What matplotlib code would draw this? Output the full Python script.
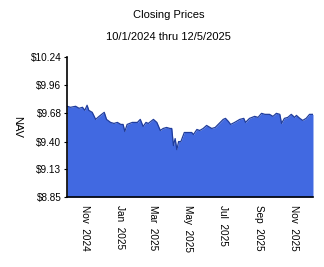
import matplotlib
matplotlib.use("Agg")

import matplotlib.pyplot as plt
import pandas as pd

# closing NAV
dates = [
    "2024-10-01", "2024-10-07", "2024-10-16", "2024-10-22", "2024-10-28",
    "2024-11-01", "2024-11-05", "2024-11-08", "2024-11-14", "2024-11-20",
    "2024-11-26", "2024-12-05", "2024-12-09", "2024-12-16", "2024-12-22",
    "2024-12-28", "2025-01-03", "2025-01-07", "2025-01-10", "2025-01-14",
    "2025-01-23", "2025-02-01", "2025-02-06", "2025-02-11", "2025-02-16",
    "2025-02-20", "2025-03-01", "2025-03-07", "2025-03-13", "2025-03-18",
    "2025-03-24", "2025-03-30", "2025-04-02", "2025-04-05", "2025-04-08",
    "2025-04-11", "2025-04-14", "2025-04-18", "2025-04-24", "2025-05-01",
    "2025-05-07", "2025-05-10", "2025-05-16", "2025-05-21", "2025-05-27",
    "2025-06-02", "2025-06-08", "2025-06-11", "2025-06-17", "2025-06-24",
    "2025-07-01", "2025-07-05", "2025-07-10", "2025-07-14", "2025-07-21",
    "2025-07-30", "2025-08-06", "2025-08-09", "2025-08-16", "2025-08-25",
    "2025-08-31", "2025-09-06", "2025-09-12", "2025-09-20", "2025-09-26",
    "2025-10-02", "2025-10-08", "2025-10-11", "2025-10-16", "2025-10-22",
    "2025-10-28", "2025-11-03", "2025-11-06", "2025-11-12", "2025-11-17",
    "2025-11-23", "2025-11-29", "2025-12-05",
]
nav = [
    9.75, 9.74, 9.75, 9.73, 9.74,
    9.71, 9.76, 9.71, 9.69, 9.62,
    9.65, 9.69, 9.62, 9.59, 9.58,
    9.59, 9.57, 9.57, 9.50, 9.57,
    9.59, 9.59, 9.62, 9.55, 9.59,
    9.58, 9.62, 9.59, 9.51, 9.53,
    9.54, 9.53, 9.53, 9.36, 9.43,
    9.32, 9.40, 9.40, 9.49, 9.49,
    9.49, 9.47, 9.52, 9.51, 9.53,
    9.56, 9.54, 9.53, 9.54, 9.58,
    9.62, 9.63, 9.60, 9.57, 9.59,
    9.62, 9.63, 9.59, 9.63, 9.65,
    9.64, 9.68, 9.67, 9.67, 9.65,
    9.68, 9.67, 9.58, 9.63, 9.64,
    9.67, 9.64, 9.66, 9.63, 9.61,
    9.63, 9.67, 9.67,
]
y_ticks = [8.85, 9.13, 9.40, 9.68, 9.96, 10.24]
x_ticks = ["2024-11-01", "2025-01-01", "2025-03-01", "2025-05-01",
           "2025-07-01", "2025-09-01", "2025-11-01"]

plt.rcParams["font.family"] = ["Liberation Sans", "DejaVu Sans"]

df = pd.DataFrame({"nav": nav}, index=pd.to_datetime(dates))

fig = plt.figure(figsize=(3.24, 2.67), dpi=100)
ax = fig.add_axes([0.207, 0.262, 0.759, 0.525])

ax.fill_between(df.index, y_ticks[0], df["nav"], color="#4169e1", linewidth=0)
ax.plot(df.index, df["nav"], color="#1f3c9c", linewidth=0.9)

ax.set_xlim(pd.Timestamp(dates[0]), pd.Timestamp(dates[-1]))
ax.set_ylim(y_ticks[0], y_ticks[-1])

ax.set_yticks(y_ticks)
ax.set_yticklabels(["$%.2f" % v for v in y_ticks], fontsize=7.2)
ax.set_xticks(pd.to_datetime(x_ticks))
ax.set_xticklabels([pd.Timestamp(d).strftime("%b  %Y") for d in x_ticks],
                   rotation=270, fontsize=7.2, va="top", ha="center")
ax.tick_params(axis="y", length=2, width=0.8, pad=2)
ax.tick_params(axis="x", length=0, pad=6)

ax.spines["top"].set_visible(False)
ax.spines["right"].set_visible(False)
ax.spines["left"].set_linewidth(1.2)
ax.spines["bottom"].set_linewidth(1.2)

ax.set_ylabel("NAV", rotation=270, fontsize=8, labelpad=10, va="center")

fig.text(0.52, 0.944, "Closing Prices", ha="center", va="center", fontsize=8)
fig.text(0.52, 0.861, "10/1/2024 thru 12/5/2025", ha="center", va="center", fontsize=8)

fig.savefig("out.png", dpi=100)
plt.close(fig)
